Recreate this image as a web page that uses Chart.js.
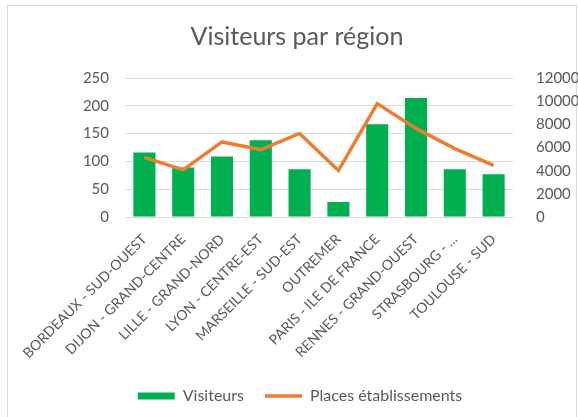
<!DOCTYPE html>
<html>
<head>
<meta charset="utf-8">
<script src="https://cdn.jsdelivr.net/npm/chart.js@4/dist/chart.umd.min.js"></script>
<style>
  html, body { margin: 0; padding: 0; background: #fff; }
  #wrap { position: relative; width: 578px; height: 417px; }
  #frame { position: absolute; left: 7px; top: 5px; width: 570px; height: 420px; border: 1px solid #d9d9d9; box-sizing: border-box; }
  canvas { position: absolute; left: 0; top: 0; }
</style>
</head>
<body>
<div id="wrap">
  <div id="frame"></div>
  <canvas id="chart" width="578" height="417"></canvas>
</div>
<script>
const regions = [
  'BORDEAUX - SUD-OUEST', 'DIJON - GRAND-CENTRE', 'LILLE - GRAND-NORD', 'LYON - CENTRE-EST',
  'MARSEILLE - SUD-EST', 'OUTREMER', 'PARIS - ILE DE FRANCE', 'RENNES - GRAND-OUEST',
  'STRASBOURG - ...', 'TOULOUSE - SUD'
];
const visiteurs = [116, 89, 109, 138, 86, 27, 167, 214, 86, 77];
const places = [5150, 4070, 6480, 5810, 7210, 4010, 9790, 7650, 5900, 4450];
const leftTicks = [0, 50, 100, 150, 200, 250];
const rightTicks = [0, 2000, 4000, 6000, 8000, 10000, 12000];

const GREEN = '#00b050';
const ORANGE = '#ed7d31';
const TEXT = '#595959';
const FONT = 'Lato, "Open Sans", sans-serif';

// nudge the legend so it sits where Excel drew it
const legendShift = {
  id: 'legendShift',
  afterLayout: function(chart) {
    chart.legend.left += 3;
    chart.legend.right += 3;
  }
};

new Chart(document.getElementById('chart'), {
  type: 'bar',
  data: {
    labels: regions,
    datasets: [
      {
        type: 'line', label: 'Places établissements', data: places, yAxisID: 'y2',
        borderColor: ORANGE, backgroundColor: ORANGE, borderWidth: 3.5,
        pointRadius: 0, pointStyle: 'line', tension: 0, order: 0
      },
      {
        type: 'bar', label: 'Visiteurs', data: visiteurs, yAxisID: 'y',
        backgroundColor: GREEN, borderWidth: 0, pointStyle: 'rect',
        barPercentage: 0.57, categoryPercentage: 1, order: 1
      }
    ]
  },
  plugins: [legendShift],
  options: {
    responsive: false, animation: false,
    layout: { padding: { left: 16, right: 0, top: 0, bottom: 3 } },
    plugins: {
      title: {
        display: true, text: 'Visiteurs par région', color: TEXT,
        font: { family: FONT, size: 25, weight: 'normal' },
        padding: { top: 22, bottom: 26 }
      },
      legend: {
        position: 'bottom', reverse: true,
        labels: {
          color: TEXT, font: { family: FONT, size: 16 },
          usePointStyle: true, pointStyleWidth: 37, boxHeight: 7, padding: 21
        }
      },
      tooltip: { enabled: false }
    },
    scales: {
      x: {
        grid: { display: false }, border: { display: false },
        ticks: { color: TEXT, font: { family: FONT, size: 14 }, minRotation: 45, maxRotation: 45, autoSkip: false, padding: 6 },
        afterFit: function(s) { s.height = 150; }
      },
      y: {
        position: 'left', min: 0, max: 250,
        afterBuildTicks: function(s) { s.ticks = leftTicks.map(function(v) { return { value: v }; }); },
        grid: { color: '#d9d9d9', drawTicks: false }, border: { display: false },
        ticks: { color: TEXT, font: { family: FONT, size: 15 }, padding: 16, autoSkip: false },
        afterFit: function(s) { s.width = 109; }
      },
      y2: {
        position: 'right', min: 0, max: 12000,
        afterBuildTicks: function(s) { s.ticks = rightTicks.map(function(v) { return { value: v }; }); },
        grid: { display: false }, border: { display: false },
        ticks: {
          color: TEXT, font: { family: FONT, size: 15 }, padding: 15, autoSkip: false,
          callback: function(v) { return String(v); }
        },
        afterFit: function(s) { s.width = 65; }
      }
    }
  }
});
</script>
</body>
</html>
